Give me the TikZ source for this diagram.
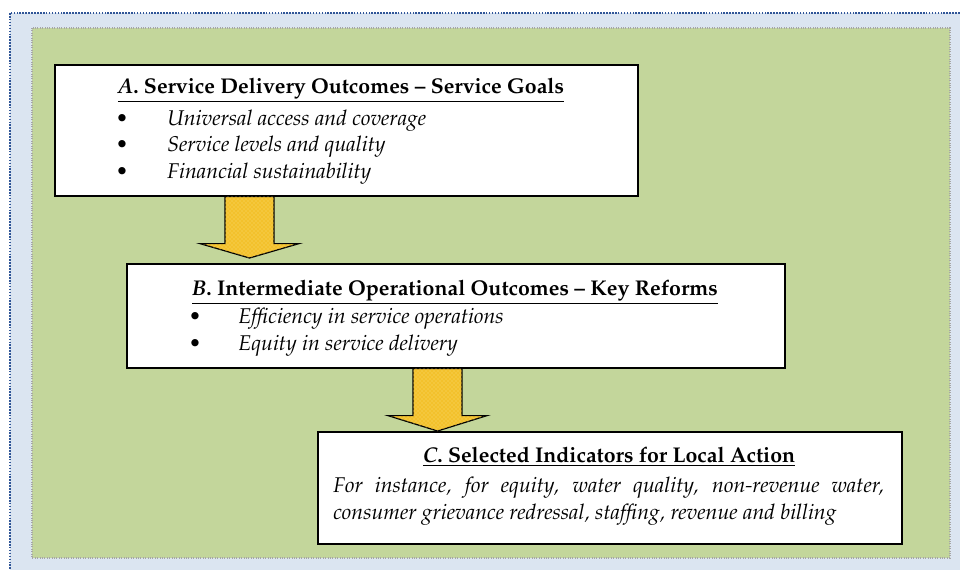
\documentclass[tikz,border=0pt]{standalone}
\usepackage[T1]{fontenc}
\usepackage{mathpazo}
\usepackage{xcolor}
\usepackage{tikz}
\usetikzlibrary{calc, shadows, patterns}
\definecolor{frameBlue}{HTML}{DBE5F1}
\definecolor{frameDots}{HTML}{2F5597}
\definecolor{panelGreen}{HTML}{C3D69B}
\definecolor{panelDots}{HTML}{A6A6A6}
\definecolor{arrowGold}{HTML}{F3C12C}
\definecolor{arrowLight}{HTML}{FADB72}

\tikzset{
    box/.style={draw, line width=1.2pt, fill=white, anchor=north west, inner sep=0pt,
        drop shadow={shadow xshift=1.2pt, shadow yshift=-1.2pt, opacity=0.45, fill=black}},
    blockarrow/.style={draw, line width=0.9pt, line join=miter, fill=arrowGold,
        postaction={pattern=crosshatch dots, pattern color=arrowLight}},
    heading/.style={anchor=base, inner sep=0pt, font=\fontsize{16}{19}\selectfont\bfseries},
    item/.style={anchor=base west, inner sep=0pt, font=\fontsize{16}{19}\selectfont\itshape},
    dot/.style={anchor=base, inner sep=0pt, font=\fontsize{16}{19}\selectfont},
}

\begin{document}
\begin{tikzpicture}[x=0.75pt, y=-0.75pt]
    \useasboundingbox (0, 0) rectangle (960, 569);
    \clip (0, 0) rectangle (960, 569);

    % backdrop and panel
    \draw[fill=frameBlue, draw=frameDots, line width=1.2pt, densely dotted] (10, 13) rectangle (980, 590);
    \draw[fill=panelGreen, draw=panelDots, line width=0.8pt, densely dotted] (32, 28) rectangle (950, 558);

    % the three boxes
    \node[box, minimum width=437.25pt, minimum height=98.25pt] (boxA) at (54, 64) {};
    \node[box, minimum width=493.5pt, minimum height=78pt] (boxB) at (126, 263) {};
    \node[box, minimum width=438pt, minimum height=84pt] (boxC) at (317, 431) {};

    % block arrows between the boxes
    \foreach \from/\to/\dx/\gap in {boxA/boxB/195.5/5, boxB/boxC/311.5/0} {
        \coordinate (top) at ($(\from.south west)+(\dx, 0)$);
        \draw[blockarrow] ($(top)+(-24.5, 0)$) -- ($(top)+(-24.5, 47)$) -- ($(top)+(-49.5, 47)$)
            -- ($(top |- \to.north)+(0, -\gap)$)
            -- ($(top)+(49.5, 47)$) -- ($(top)+(24.5, 47)$) -- ($(top)+(24.5, 0)$) -- cycle;
    }

    % box A
    \node[heading] (headA) at (341, 93) {\underline{\textit{A}. Service Delivery Outcomes -- Service Goals}};
    \foreach \txt [count=\i] in {Universal access and coverage, Service levels and quality, Financial sustainability} {
        \node[dot] (dotA\i) at (122, {125+26.5*(\i-1)}) {\textbullet};
        \node[item] (itemA\i) at (167, {125+26.5*(\i-1)}) {\txt};
    }

    % box B
    \node[heading] (headB) at (455, 295) {\underline{\textit{B}. Intermediate Operational Outcomes -- Key Reforms}};
    \foreach \txt [count=\i] in {Efficiency in service operations, Equity in service delivery} {
        \node[dot] (dotB\i) at (195, {323+27*(\i-1)}) {\textbullet};
        \node[item] (itemB\i) at (238, {323+27*(\i-1)}) {\txt};
    }

    % box C
    \node[heading] (headC) at (609, 462) {\underline{\textit{C}. Selected Indicators for Local Action}};
    \node[item] (lineC1) at (333, 492) {\makebox[413pt][s]{For instance, for equity, water quality, non-revenue water,}};
    \node[item] (lineC2) at (333, 519) {consumer grievance redressal, staffing, revenue and billing};
\end{tikzpicture}
\end{document}
